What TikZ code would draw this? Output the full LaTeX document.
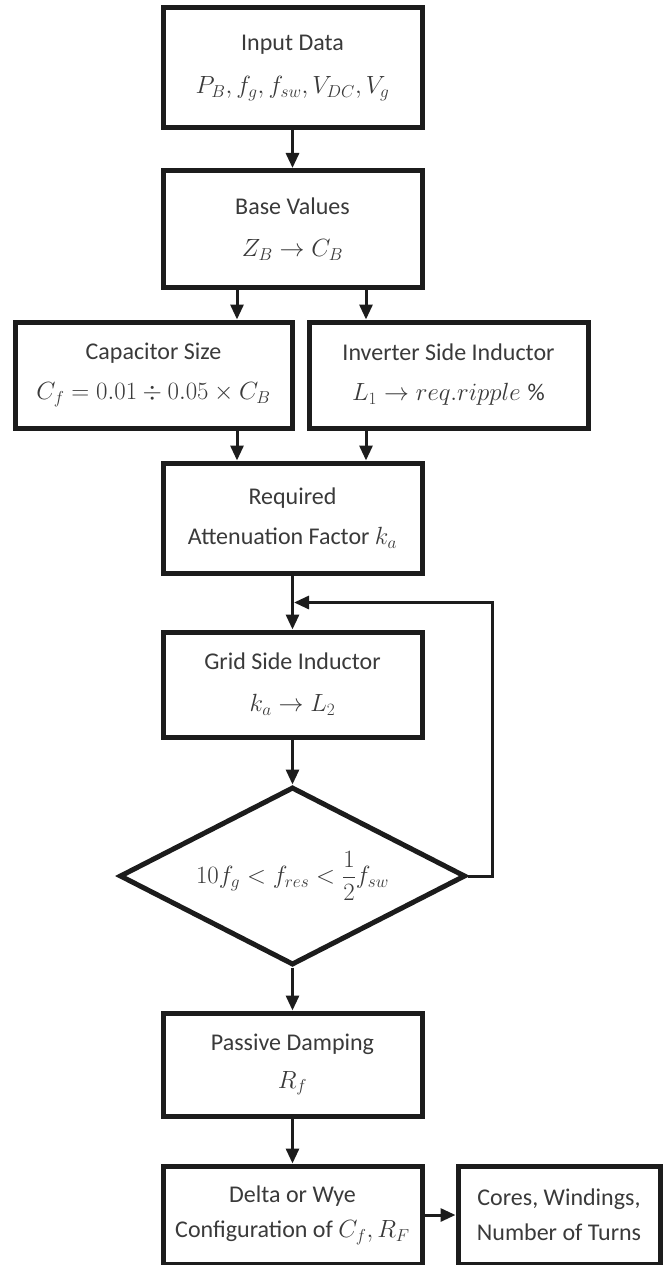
\documentclass[tikz,border=0pt]{standalone}
\usepackage{fontspec}
\setmainfont{Carlito}
\usepackage{amsmath}
\usetikzlibrary{arrows.meta,shapes.geometric,calc}
\definecolor{linec}{HTML}{1C1C1C}
\definecolor{textc}{HTML}{3A3A3A}
\tikzset{
  box/.style={draw=linec, line width=5pt, fill=white, align=center, inner sep=0pt,
    text=textc, font=\fontsize{24}{40}\selectfont},
  decide/.style={diamond, shape aspect=1.97, draw=linec, line width=5pt, fill=white, inner sep=0pt,
    text=textc, font=\fontsize{24}{40}\selectfont},
  arr/.style={draw=linec, line width=3pt, -{Triangle[length=15pt,width=13pt]}}
}
\begin{document}
\begin{tikzpicture}[x=1pt,y=1pt]
\useasboundingbox (0,0) rectangle (665,-1265);
% boxes
\node[box, minimum width=259pt, minimum height=120pt] (inp) at (292.5,-68)
  {Input Data\\[3pt] $P_B, f_g, f_{sw}, V_{DC}, V_g$};
\node[box, minimum width=259pt, minimum height=117pt] (base) at (292.5,-229)
  {Base Values\\[2pt] $Z_B \rightarrow C_B$};
\node[box, minimum width=277pt, minimum height=106pt] (cap) at (153.5,-375)
  {Capacitor Size\\ $C_f = 0.01 \div 0.05 \times C_B$};
\node[box, minimum width=279pt, minimum height=106pt] (inv) at (448.5,-375)
  {Inverter Side Inductor\\ $L_1 \rightarrow req.ripple\;\%$};
\node[box, minimum width=259pt, minimum height=110pt] (req) at (292.5,-518)
  {Required\\ Attenuation Factor $k_a$};
\node[box, minimum width=259pt, minimum height=105pt] (grid) at (292.5,-684.5)
  {Grid Side Inductor\\[2pt] $k_a \rightarrow L_2$};
\node[decide, minimum width=346pt, minimum height=178pt] (dia) at (292.5,-876)
  {$10f_g < f_{res} < \dfrac{1}{2} f_{sw}$};
\node[box, minimum width=259pt, minimum height=103pt] (pas) at (292.5,-1064.5)
  {Passive Damping\\[-2pt] $R_f$};
\node[box, minimum width=259pt, minimum height=98pt] (del) at (292.5,-1215)
  {Delta or Wye\\[-5pt] Configuration of $C_f,R_F$};
\node[box, minimum width=202pt, minimum height=98pt] (cor) at (559,-1215)
  {Cores, Windings,\\[-5pt] Number of Turns};
% helper columns
\coordinate (colL) at (237,0);
\coordinate (colR) at (366,0);
\coordinate (fbJ) at ($(req.south)!0.5!(grid.north)$);
\coordinate (fbX) at (492,0);
% connectors
\draw[arr] (inp.south) -- (base.north);
\draw[arr] (base.south -| colL) -- (cap.north -| colL);
\draw[arr] (base.south -| colR) -- (inv.north -| colR);
\draw[arr] (cap.south -| colL) -- (req.north -| colL);
\draw[arr] (inv.south -| colR) -- (req.north -| colR);
\draw[arr] (req.south) -- (grid.north);
\draw[arr] (grid.south) -- (dia.north);
\draw[arr] (dia.east) -- (dia.east -| fbX) -- (fbJ -| fbX) -- ([xshift=1.5pt]fbJ);
\draw[arr] (dia.south) -- (pas.north);
\draw[arr] (pas.south) -- (del.north);
\draw[arr] (del.east) -- (cor.west);
\end{tikzpicture}
\end{document}
